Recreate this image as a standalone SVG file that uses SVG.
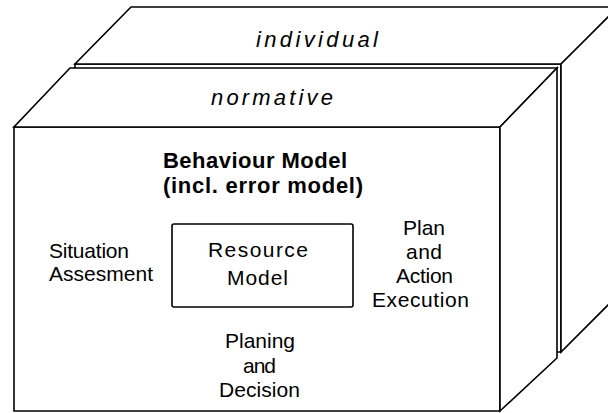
<svg xmlns="http://www.w3.org/2000/svg" width="608" height="413" viewBox="0 0 608 413">
<style>
.face{fill:#fff;stroke:#000;stroke-width:1.6;stroke-linejoin:miter}
.t{font-family:"Liberation Sans",Arial,sans-serif;font-size:21px;fill:#000}
.m{text-anchor:middle}
.b{font-weight:bold;font-size:22px}
.i{font-style:italic;font-size:22px;text-anchor:middle}
</style>
<rect width="608" height="413" fill="#fff"/>
<g id="individual">
<polygon class="face" points="75,64 561,64 561,352 75,352"/>
<polygon class="face" points="131,7 620,7 561,64 75,64"/>
<polygon class="face" points="561,64 620,5 620,293 561,352"/>
<text class="t i" x="317" y="47" textLength="122">individual</text>
</g>
<g id="normative">
<polygon class="face" points="14,127 500,127 500,411 14,411"/>
<polygon class="face" points="70,68 557,68 500,127 14,127"/>
<polygon class="face" points="500,127 557,68 557,358 500,411"/>
<text class="t i" x="272" y="105" textLength="122">normative</text>
</g>
<g id="behaviour-model">
<text class="t b" x="163" y="168" textLength="184">Behaviour Model</text>
<text class="t b" x="163" y="193" textLength="200">(incl. error model)</text>
</g>
<g id="situation-assessment">
<text class="t" x="49" y="258" textLength="80">Situation</text>
<text class="t" x="49" y="281" textLength="104">Assesment</text>
</g>
<g id="resource-model">
<rect x="172" y="224" width="181" height="83" rx="2" fill="#fff" stroke="#000" stroke-width="1.6"/>
<text class="t m" x="258" y="257" textLength="100">Resource</text>
<text class="t m" x="257.5" y="285" textLength="61">Model</text>
</g>
<g id="plan-action-execution">
<text class="t m" x="424" y="235" textLength="42">Plan</text>
<text class="t m" x="424" y="259" textLength="36">and</text>
<text class="t m" x="424.5" y="283" textLength="57">Action</text>
<text class="t m" x="420.5" y="307" textLength="97">Execution</text>
</g>
<g id="planing-decision">
<text class="t m" x="260" y="348" textLength="70">Planing</text>
<text class="t m" x="259.5" y="373" textLength="33">and</text>
<text class="t m" x="259.5" y="397" textLength="81">Decision</text>
</g>
<g id="connectors"/>
</svg>
